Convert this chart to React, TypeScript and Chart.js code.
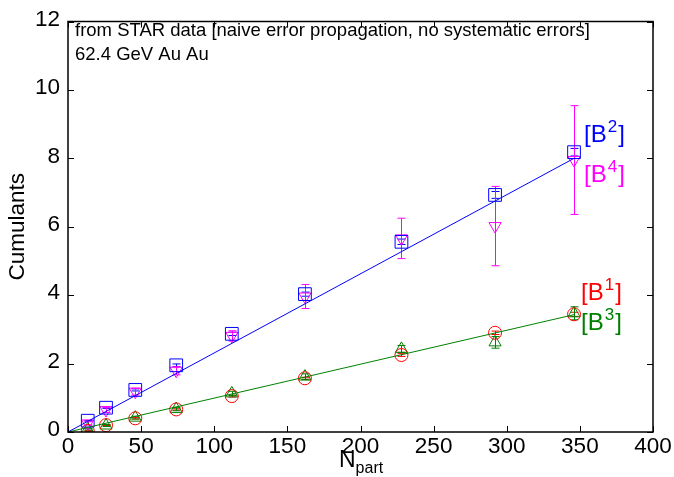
import React, { useEffect, useRef } from "react";
import { Chart, registerables } from "chart.js";

Chart.register(...registerables);

const npart = [13.5, 26, 46, 74, 112, 162, 228, 292, 346];
const b1 = [0.03, 0.2, 0.4, 0.66, 1.05, 1.57, 2.25, 2.9, 3.44];
const b1Err = [0.01, 0.01, 0.02, 0.02, 0.03, 0.03, 0.04, 0.05, 0.06];
const b2 = [0.33, 0.71, 1.23, 1.95, 2.87, 4.03, 5.56, 6.93, 8.18];
const b2Err = [0.01, 0.02, 0.03, 0.04, 0.05, 0.06, 0.08, 0.1, 0.11];
const b3 = [0.08, 0.19, 0.42, 0.67, 1.13, 1.62, 2.43, 2.62, 3.47];
const b3Err = [0.02, 0.03, 0.04, 0.05, 0.06, 0.08, 0.1, 0.17, 0.19];
const b4 = [0.25, 0.64, 1.18, 1.79, 2.81, 3.96, 5.66, 6.02, 7.95];
const b4Err = [0.05, 0.07, 0.1, 0.12, 0.15, 0.35, 0.59, 1.16, 1.59];

const fitX = [0, 346];
const fitEven = [0, 8.0];
const fitOdd = [0, 3.43];

const xTicks = [0, 50, 100, 150, 200, 250, 300, 350, 400];
const yTicks = [0, 2, 4, 6, 8, 10, 12];

const noteLines = [
  "from STAR data [naive error propagation, no systematic errors]",
  "62.4 GeV Au Au",
];

const seriesLabels = [
  { sup: "2", color: "#0000ff", value: 8.47, x: 584 },
  { sup: "4", color: "#ff00ff", value: 7.3, x: 584 },
  { sup: "1", color: "#ff0000", value: 3.86, x: 581 },
  { sup: "3", color: "#008000", value: 2.99, x: 581 },
];

const FONT = "'Liberation Sans', Arial, Helvetica, sans-serif";

function pts(xs: number[], ys: number[]) {
  return xs.map((x, i) => ({ x, y: ys[i] }));
}

const errorSets = [
  { ys: b2, errs: b2Err, color: "#0000ff" },
  { ys: b4, errs: b4Err, color: "#ff00ff" },
  { ys: b1, errs: b1Err, color: "#ff0000" },
  { ys: b3, errs: b3Err, color: "#008000" },
];

const decorPlugin = {
  id: "decor",
  beforeDatasetsDraw(chart: any) {
    const ctx = chart.ctx;
    const xs = chart.scales.x;
    const ys = chart.scales.y;
    ctx.save();
    ctx.lineWidth = 1;
    for (const s of errorSets) {
      ctx.strokeStyle = s.color;
      s.ys.forEach((v: number, i: number) => {
        const px = Math.round(xs.getPixelForValue(npart[i])) + 0.5;
        const top = ys.getPixelForValue(v + s.errs[i]);
        const bot = ys.getPixelForValue(v - s.errs[i]);
        ctx.beginPath();
        ctx.moveTo(px, top);
        ctx.lineTo(px, bot);
        ctx.moveTo(px - 4, top);
        ctx.lineTo(px + 4, top);
        ctx.moveTo(px - 4, bot);
        ctx.lineTo(px + 4, bot);
        ctx.stroke();
      });
    }
    ctx.restore();
  },
  afterDraw(chart: any) {
    const ctx = chart.ctx;
    const { left, right, top, bottom } = chart.chartArea;
    const xs = chart.scales.x;
    const ys = chart.scales.y;
    ctx.save();
    // frame
    ctx.strokeStyle = "#000";
    ctx.lineWidth = 1.5;
    ctx.strokeRect(left, top, right - left, bottom - top);
    // ticks
    ctx.lineWidth = 1;
    ctx.beginPath();
    for (const t of xTicks) {
      const px = Math.round(xs.getPixelForValue(t)) + 0.5;
      ctx.moveTo(px, bottom);
      ctx.lineTo(px, bottom - 6);
      ctx.moveTo(px, top);
      ctx.lineTo(px, top + 6);
    }
    for (const t of yTicks) {
      const py = Math.round(ys.getPixelForValue(t)) + 0.5;
      ctx.moveTo(left, py);
      ctx.lineTo(left + 6, py);
      ctx.moveTo(right, py);
      ctx.lineTo(right - 6, py);
    }
    ctx.stroke();
    // tick labels
    ctx.fillStyle = "#000";
    ctx.font = `22.5px ${FONT}`;
    ctx.textAlign = "center";
    ctx.textBaseline = "top";
    for (const t of xTicks) {
      ctx.fillText(String(t), xs.getPixelForValue(t), bottom + 4);
    }
    ctx.textAlign = "right";
    ctx.textBaseline = "middle";
    for (const t of yTicks) {
      ctx.fillText(String(t), left - 8, ys.getPixelForValue(t) - 2);
    }
    // axis titles
    ctx.save();
    ctx.translate(18, (top + bottom) / 2);
    ctx.rotate(-Math.PI / 2);
    ctx.textAlign = "center";
    ctx.textBaseline = "middle";
    ctx.font = `22.5px ${FONT}`;
    ctx.fillText("Cumulants", 0, 0);
    ctx.restore();
    ctx.textAlign = "left";
    ctx.textBaseline = "alphabetic";
    ctx.font = `23px ${FONT}`;
    const nW = ctx.measureText("N").width;
    const cx = 339;
    ctx.fillText("N", cx, 467);
    ctx.font = `16px ${FONT}`;
    ctx.fillText("part", cx + nW, 473);
    // note
    ctx.font = `18.5px ${FONT}`;
    ctx.fillText(noteLines[0], left + 7, 36);
    ctx.fillText(noteLines[1], left + 7, 60);
    // series labels
    for (const l of seriesLabels) {
      const py = ys.getPixelForValue(l.value);
      ctx.fillStyle = l.color;
      ctx.font = `24px ${FONT}`;
      ctx.fillText("[B", l.x, py);
      let w = ctx.measureText("[B").width;
      ctx.font = `17px ${FONT}`;
      ctx.fillText(l.sup, l.x + w + 1, py - 10);
      w += ctx.measureText(l.sup).width + 2;
      ctx.font = `24px ${FONT}`;
      ctx.fillText("]", l.x + w, py);
    }
    ctx.restore();
  },
};

export default function App() {
  const ref = useRef<HTMLCanvasElement | null>(null);
  useEffect(() => {
    if (!ref.current) return;
    const chart = new Chart(ref.current, {
      type: "scatter",
      data: {
        datasets: [
          {
            label: "fit even",
            data: pts(fitX, fitEven),
            showLine: true,
            borderColor: "#0000ff",
            borderWidth: 1,
            pointRadius: 0,
          },
          {
            label: "fit odd",
            data: pts(fitX, fitOdd),
            showLine: true,
            borderColor: "#008000",
            borderWidth: 1,
            pointRadius: 0,
          },
          {
            label: "B2",
            data: pts(npart, b2),
            pointStyle: "rect",
            pointRadius: 9,
            borderColor: "#0000ff",
            backgroundColor: "rgba(0,0,0,0)",
            borderWidth: 1,
          },
          {
            label: "B4",
            data: pts(npart, b4),
            pointStyle: "triangle",
            rotation: 180,
            pointRadius: 7,
            borderColor: "#ff00ff",
            backgroundColor: "rgba(0,0,0,0)",
            borderWidth: 1,
          },
          {
            label: "B1",
            data: pts(npart, b1),
            pointStyle: "circle",
            pointRadius: 6.5,
            borderColor: "#ff0000",
            backgroundColor: "rgba(0,0,0,0)",
            borderWidth: 1,
          },
          {
            label: "B3",
            data: pts(npart, b3),
            pointStyle: "triangle",
            pointRadius: 7,
            borderColor: "#008000",
            backgroundColor: "rgba(0,0,0,0)",
            borderWidth: 1,
          },
        ],
      },
      options: {
        responsive: false,
        animation: false,
        events: [],
        layout: { padding: { left: 68, right: 21, top: 21.5, bottom: 45 } },
        plugins: { legend: { display: false }, tooltip: { enabled: false } },
        scales: {
          x: {
            type: "linear",
            min: 0,
            max: 400,
            grid: { display: false, drawTicks: false },
            border: { display: false },
            ticks: { display: false },
            afterFit: (s: any) => {
              s.height = 0;
            },
          },
          y: {
            type: "linear",
            min: 0,
            max: 12,
            grid: { display: false, drawTicks: false },
            border: { display: false },
            ticks: { display: false },
            afterFit: (s: any) => {
              s.width = 0;
            },
          },
        },
      },
      plugins: [decorPlugin],
    });
    return () => chart.destroy();
  }, []);
  return (
    <div style={{ position: "fixed", left: 0, top: 0, width: 674, height: 477, background: "#fff" }}>
      <canvas ref={ref} width={674} height={477} style={{ display: "block" }} />
    </div>
  );
}
